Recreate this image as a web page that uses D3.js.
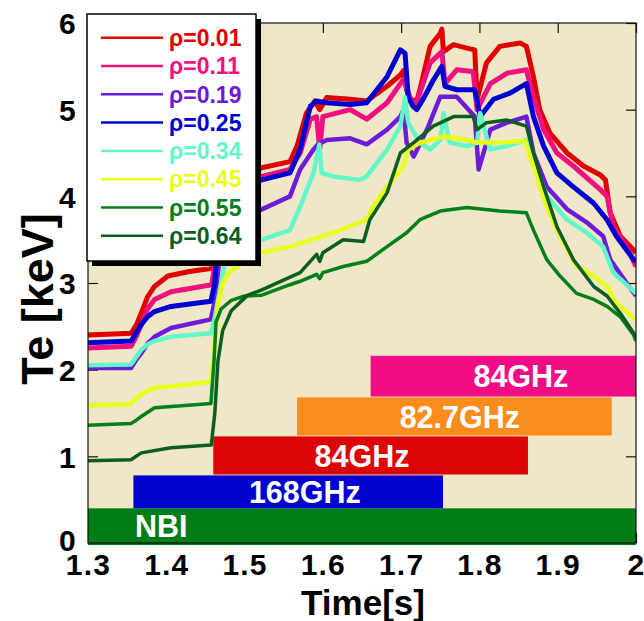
<!DOCTYPE html>
<html>
<head>
<meta charset="utf-8">
<script src="https://cdn.jsdelivr.net/npm/d3@7"></script>
<style>
  html, body { margin: 0; padding: 0; background: #ffffff; }
  svg { display: block; font-family: "Liberation Sans", Arial, sans-serif; font-weight: bold; }
</style>
</head>
<body>
<svg id="chart" width="644" height="621"></svg>
<script>
// ---- Te traces: [time (s), Te (keV)] for each normalised radius ----
const rhoLabels = ["ρ=0.01", "ρ=0.11", "ρ=0.19", "ρ=0.25", "ρ=0.34", "ρ=0.45", "ρ=0.55", "ρ=0.64"];

const teRho001 = [[1.300,2.40],[1.355,2.42],[1.362,2.52],[1.368,2.65],[1.376,2.84],[1.385,2.96],[1.402,3.08],[1.428,3.13],[1.458,3.17],[1.462,3.40],[1.468,4.05],[1.480,4.22],[1.522,4.33],[1.558,4.40],[1.567,4.58],[1.579,4.96],[1.590,5.10],[1.596,5.00],[1.605,5.14],[1.635,5.12],[1.656,5.10],[1.682,5.27],[1.699,5.40],[1.703,5.45],[1.707,5.23],[1.711,5.12],[1.720,5.10],[1.724,5.23],[1.737,5.73],[1.750,5.88],[1.752,5.93],[1.754,5.67],[1.767,5.75],[1.784,5.71],[1.794,5.69],[1.797,5.12],[1.809,5.54],[1.826,5.73],[1.852,5.77],[1.860,5.73],[1.869,5.38],[1.877,5.00],[1.890,4.73],[1.912,4.50],[1.933,4.35],[1.954,4.25],[1.961,4.19],[1.967,3.81],[1.980,3.54],[2.000,3.35]];
const teRho011 = [[1.300,2.25],[1.355,2.27],[1.362,2.39],[1.368,2.52],[1.376,2.70],[1.385,2.81],[1.406,2.90],[1.458,2.98],[1.462,3.20],[1.470,4.00],[1.522,4.23],[1.558,4.31],[1.571,4.50],[1.584,4.89],[1.592,4.92],[1.596,4.54],[1.600,4.92],[1.635,5.00],[1.656,4.89],[1.682,5.08],[1.699,5.30],[1.703,5.35],[1.711,5.15],[1.718,5.04],[1.737,5.54],[1.752,5.67],[1.756,5.30],[1.771,5.46],[1.792,5.44],[1.797,5.00],[1.814,5.30],[1.835,5.42],[1.860,5.46],[1.869,5.15],[1.882,4.77],[1.899,4.50],[1.920,4.35],[1.954,4.08],[1.963,4.00],[1.971,3.65],[1.988,3.42],[2.000,3.19]];
const teRho019 = [[1.300,2.02],[1.355,2.02],[1.362,2.12],[1.368,2.19],[1.376,2.30],[1.385,2.38],[1.406,2.48],[1.457,2.58],[1.462,2.80],[1.472,3.60],[1.522,3.85],[1.558,4.00],[1.571,4.31],[1.588,4.54],[1.594,4.60],[1.605,4.65],[1.635,4.67],[1.656,4.60],[1.682,4.77],[1.699,4.92],[1.703,5.00],[1.707,4.62],[1.716,4.46],[1.733,4.77],[1.750,5.15],[1.771,5.15],[1.794,4.92],[1.799,4.31],[1.814,4.77],[1.835,4.85],[1.860,4.92],[1.869,4.50],[1.886,4.11],[1.912,3.85],[1.937,3.70],[1.958,3.54],[1.967,3.27],[1.988,3.00],[2.000,2.85]];
const teRho025 = [[1.300,2.31],[1.355,2.33],[1.362,2.43],[1.368,2.52],[1.376,2.61],[1.385,2.67],[1.406,2.73],[1.457,2.79],[1.462,3.00],[1.468,4.00],[1.522,4.19],[1.558,4.27],[1.571,4.54],[1.584,5.04],[1.592,5.10],[1.605,5.08],[1.635,5.06],[1.656,5.08],[1.682,5.38],[1.699,5.69],[1.705,5.65],[1.709,5.15],[1.715,5.04],[1.720,5.00],[1.728,5.12],[1.741,5.34],[1.752,5.50],[1.756,5.27],[1.771,5.23],[1.794,5.23],[1.801,4.92],[1.818,5.12],[1.839,5.19],[1.860,5.30],[1.869,4.92],[1.882,4.58],[1.899,4.27],[1.920,4.11],[1.946,3.92],[1.963,3.73],[1.975,3.54],[1.997,3.27],[2.000,3.25]];
const teRho034 = [[1.300,2.05],[1.355,2.06],[1.362,2.15],[1.368,2.23],[1.376,2.29],[1.385,2.33],[1.406,2.38],[1.457,2.42],[1.462,2.60],[1.474,3.20],[1.489,3.30],[1.522,3.50],[1.558,3.61],[1.571,3.88],[1.588,4.27],[1.5955,4.60],[1.5985,4.27],[1.613,4.23],[1.647,4.19],[1.656,4.23],[1.682,4.54],[1.699,4.81],[1.705,5.14],[1.709,4.85],[1.724,4.62],[1.737,4.54],[1.750,4.65],[1.752,4.77],[1.754,4.96],[1.762,4.62],[1.784,4.58],[1.797,4.62],[1.801,4.96],[1.8135,4.54],[1.835,4.58],[1.860,4.65],[1.869,4.42],[1.886,4.00],[1.912,3.73],[1.937,3.58],[1.958,3.42],[1.971,3.12],[2.000,2.88]];
const teRho045 = [[1.300,1.59],[1.353,1.60],[1.362,1.67],[1.370,1.73],[1.385,1.79],[1.428,1.83],[1.457,1.86],[1.462,2.30],[1.466,2.75],[1.472,3.00],[1.480,3.12],[1.495,3.22],[1.522,3.35],[1.558,3.42],[1.613,3.58],[1.656,3.73],[1.664,3.88],[1.682,4.11],[1.703,4.35],[1.709,4.54],[1.724,4.62],[1.754,4.69],[1.784,4.65],[1.797,4.62],[1.826,4.62],[1.858,4.64],[1.869,4.35],[1.886,3.88],[1.903,3.54],[1.924,3.19],[1.946,3.08],[1.963,2.96],[1.975,2.77],[2.000,2.57]];
const teRho055 = [[1.300,1.36],[1.355,1.38],[1.362,1.42],[1.368,1.46],[1.385,1.56],[1.428,1.59],[1.457,1.61],[1.461,2.10],[1.4635,2.55],[1.470,2.70],[1.483,2.80],[1.500,2.85],[1.522,2.86],[1.558,2.98],[1.571,3.02],[1.592,3.10],[1.596,3.05],[1.600,3.12],[1.626,3.19],[1.656,3.25],[1.682,3.42],[1.707,3.58],[1.724,3.73],[1.750,3.83],[1.784,3.87],[1.826,3.83],[1.860,3.81],[1.869,3.61],[1.886,3.27],[1.903,3.08],[1.924,2.88],[1.946,2.81],[1.963,2.73],[1.980,2.61],[1.997,2.40],[2.000,2.33]];
const teRho064 = [[1.300,0.95],[1.355,0.96],[1.368,1.04],[1.406,1.10],[1.4575,1.13],[1.462,1.50],[1.466,2.10],[1.472,2.45],[1.483,2.68],[1.504,2.86],[1.522,2.92],[1.571,3.12],[1.592,3.33],[1.596,3.25],[1.600,3.35],[1.626,3.50],[1.652,3.48],[1.660,3.73],[1.682,4.04],[1.699,4.50],[1.716,4.62],[1.741,4.81],[1.767,4.92],[1.792,4.92],[1.797,4.77],[1.809,4.85],[1.835,4.88],[1.860,4.81],[1.869,4.50],[1.882,4.11],[1.899,3.65],[1.920,3.27],[1.946,2.96],[1.963,2.85],[1.980,2.65],[2.000,2.38]];

const teSeries = [teRho001, teRho011, teRho019, teRho025, teRho034, teRho045, teRho055, teRho064];

// ---- heating pulses: name, on/off time (s), band on the Te axis (keV) ----
const heatingNames = ["NBI", "168GHz", "84GHz", "82.7GHz", "84GHz"];
const heatingStart = [1.300, 1.358, 1.460, 1.567, 1.661];
const heatingEnd   = [2.000, 1.7535, 1.862, 1.969, 2.000];
const heatingLow   = [-0.03, 0.40, 0.79, 1.24, 1.69];
const heatingHigh  = [0.40, 0.78, 1.23, 1.68, 2.16];

// ---- axis ticks ----
const timeTicks = [1.3, 1.4, 1.5, 1.6, 1.7, 1.8, 1.9, 2.0];
const timeTickLabels = ["1.3", "1.4", "1.5", "1.6", "1.7", "1.8", "1.9", "2"];
const teTicks = [0, 1, 2, 3, 4, 5, 6];
const teTickLabels = ["0", "1", "2", "3", "4", "5", "6"];

// ---- styling ----
const traceColors = ["#e10000", "#f2107f", "#6c1bd6", "#0000d0", "#62f7c8", "#e8ff1a", "#00801a", "#0b5e1f"];
const traceWidths = [5, 5, 4.5, 5, 4.5, 4.5, 3.5, 3.5];
const heatingColors = ["#007f18", "#0000cf", "#dc0505", "#fb8c1e", "#f10c86"];
// where each pulse caption sits (time at caption centre; NBI is left-aligned)
const heatingLabelAt = [1.360, 1.577, 1.650, 1.775, 1.853];
const heatingLabelAnchor = ["start", "middle", "middle", "middle", "middle"];

(function draw() {
  const svg = d3.select("#chart");
  const pL = 88, pR = 636, pT = 23, pB = 543;
  const font = "'Liberation Sans', Arial, sans-serif";

  const x = d3.scaleLinear().domain([1.3, 2.0]).range([pL, pR]);
  const y = d3.scaleLinear().domain([0, 6]).range([pB, pT]);

  svg.append("defs").append("clipPath").attr("id", "plotClip")
    .append("rect").attr("x", pL).attr("y", pT).attr("width", pR - pL).attr("height", pB - pT + 2);

  // plot background
  svg.append("rect").attr("x", pL).attr("y", pT).attr("width", pR - pL).attr("height", pB - pT)
    .attr("fill", "#efe7c8");

  // inward ticks on all four sides
  const tickLen = 10;
  const axB = svg.append("g").attr("transform", `translate(0,${pB})`)
    .call(d3.axisBottom(x).tickValues(timeTicks).tickSizeInner(-tickLen).tickSizeOuter(0)
      .tickFormat((d, i) => timeTickLabels[i]));
  const axT = svg.append("g").attr("transform", `translate(0,${pT})`)
    .call(d3.axisTop(x).tickValues(timeTicks).tickSizeInner(-tickLen).tickSizeOuter(0).tickFormat(""));
  const axL = svg.append("g").attr("transform", `translate(${pL},0)`)
    .call(d3.axisLeft(y).tickValues(teTicks).tickSizeInner(-tickLen).tickSizeOuter(0)
      .tickFormat((d, i) => teTickLabels[i]).tickPadding(11));
  const axR = svg.append("g").attr("transform", `translate(${pR},0)`)
    .call(d3.axisRight(y).tickValues(teTicks).tickSizeInner(-tickLen).tickSizeOuter(0).tickFormat(""));

  [axB, axT, axL, axR].forEach(g => {
    g.select(".domain").remove();
    g.selectAll(".tick line").attr("stroke", "#111").attr("stroke-width", 1.2);
    g.selectAll("text").attr("fill", "#000").attr("font-size", 30).attr("letter-spacing", 1.2)
      .attr("font-family", font).attr("font-weight", "bold");
  });
  axB.selectAll("text").attr("y", 32).attr("dy", null);
  // the zero label sits a little higher so it clears the time labels below it
  axL.selectAll("text").attr("dy", d => d === 0 ? "0.26em" : "0.36em");

  // heating pulse bars
  const plot = svg.append("g").attr("clip-path", "url(#plotClip)");
  const pulses = heatingNames.map((name, i) => ({ name, i }));
  plot.selectAll("rect.pulse").data(pulses).join("rect")
    .attr("class", "pulse")
    .attr("x", d => x(heatingStart[d.i]))
    .attr("width", d => x(heatingEnd[d.i]) - x(heatingStart[d.i]))
    .attr("y", d => y(heatingHigh[d.i]))
    .attr("height", d => y(heatingLow[d.i]) - y(heatingHigh[d.i]))
    .attr("fill", d => heatingColors[d.i]);
  plot.selectAll("text.pulse").data(pulses).join("text")
    .attr("class", "pulse")
    .attr("x", d => x(heatingLabelAt[d.i]))
    .attr("y", d => (y(Math.max(heatingLow[d.i], 0)) + y(heatingHigh[d.i])) / 2)
    .attr("dy", "0.37em")
    .attr("text-anchor", d => heatingLabelAnchor[d.i])
    .attr("fill", "#ffffff").attr("font-size", 30.5)
    .text(d => d.name);

  // Te traces
  const line = d3.line().x(d => x(d[0])).y(d => y(d[1]));
  plot.selectAll("path.trace").data(teSeries).join("path")
    .attr("class", "trace")
    .attr("d", line)
    .attr("fill", "none")
    .attr("stroke", (d, i) => traceColors[i])
    .attr("stroke-width", (d, i) => traceWidths[i])
    .attr("stroke-linejoin", "round");

  // frame
  svg.append("rect").attr("x", pL).attr("y", pT).attr("width", pR - pL).attr("height", pB - pT)
    .attr("fill", "none").attr("stroke", "#111").attr("stroke-width", 1.2);

  // axis titles
  svg.append("text").attr("x", 363).attr("y", 615)
    .attr("text-anchor", "middle").attr("font-size", 35).attr("fill", "#000").text("Time[s]");
  svg.append("text").attr("transform", "translate(53,299) rotate(-90)")
    .attr("text-anchor", "middle").attr("font-size", 45).attr("fill", "#000").text("Te [keV]");

  // legend with drop shadow
  const lgX = 87, lgY = 14, lgW = 169, lgH = 247;
  const legend = svg.append("g");
  legend.append("rect").attr("x", lgX + 5).attr("y", lgY + 5).attr("width", lgW).attr("height", lgH).attr("fill", "#000");
  legend.append("rect").attr("x", lgX).attr("y", lgY).attr("width", lgW).attr("height", lgH)
    .attr("fill", "#fff").attr("stroke", "#000").attr("stroke-width", 1.5);
  const rows = legend.selectAll("g.row").data(rhoLabels).join("g")
    .attr("class", "row")
    .attr("transform", (d, i) => `translate(0,${lgY + 23.7 + i * 28.3})`);
  rows.append("line").attr("x1", 101).attr("x2", 163).attr("y1", 0).attr("y2", 0)
    .attr("stroke", (d, i) => traceColors[i]).attr("stroke-width", 2.5);
  rows.append("text").attr("x", 169).attr("y", 0).attr("dy", "0.36em")
    .attr("font-size", 23).attr("fill", (d, i) => traceColors[i]).text(d => d);
})();
</script>
</body>
</html>
